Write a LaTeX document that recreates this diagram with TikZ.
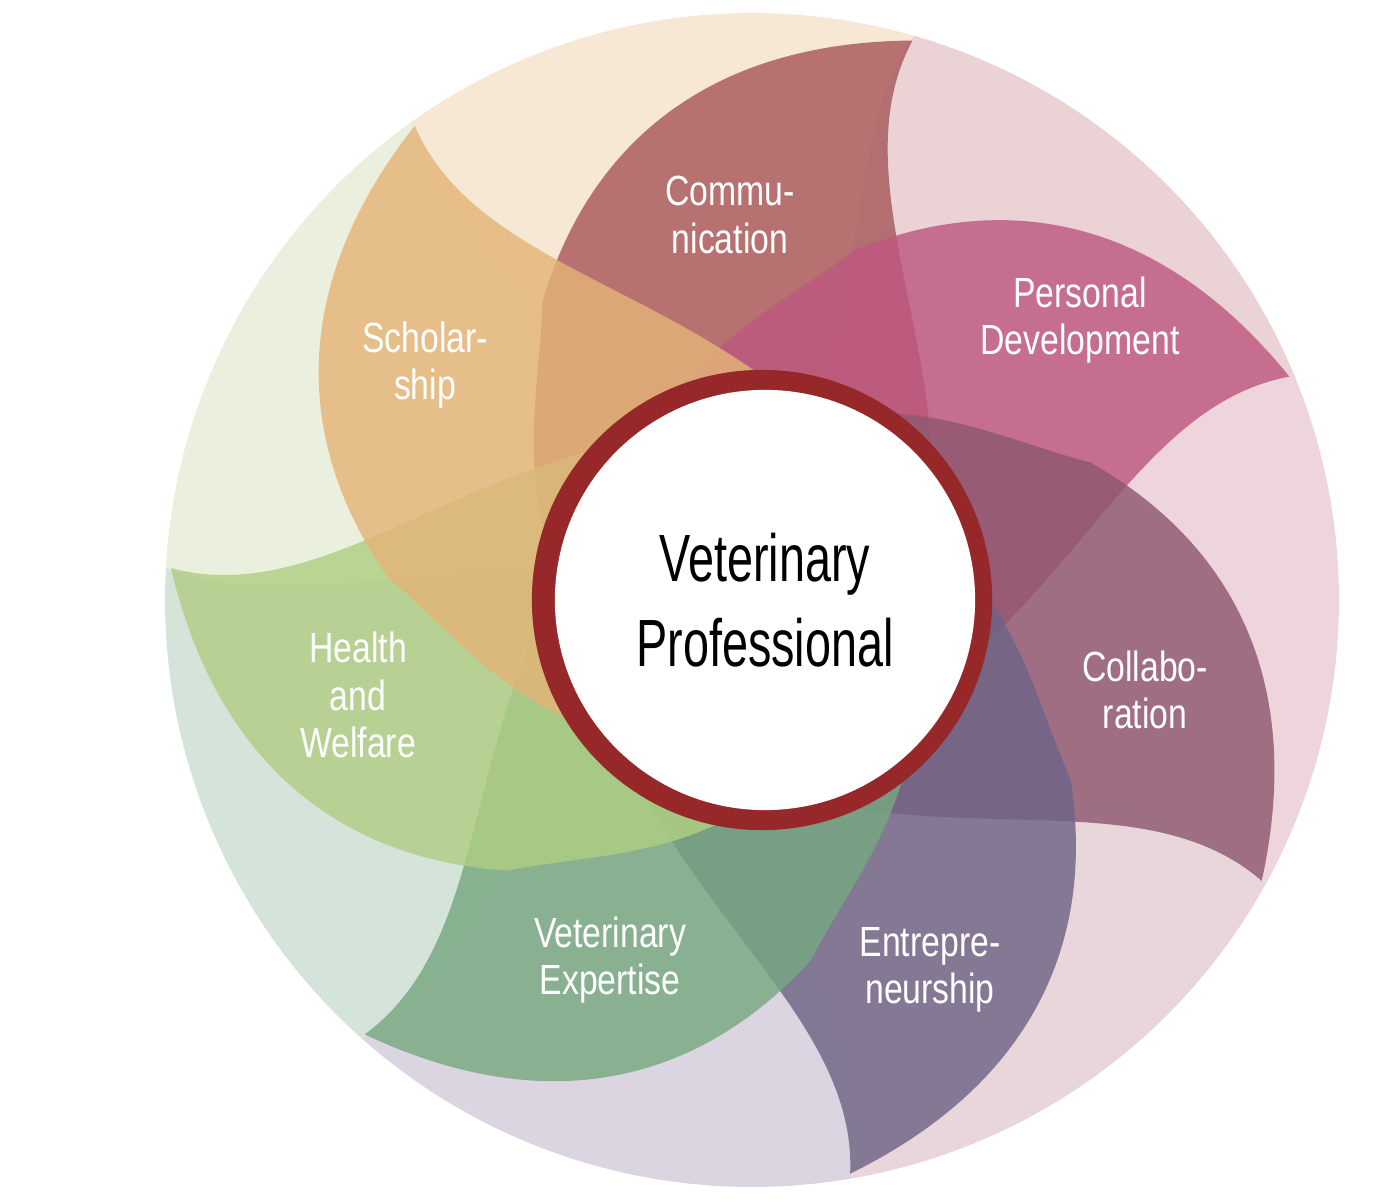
\documentclass[tikz,border=0pt]{standalone}
\usepackage{fontspec}
\setmainfont{Liberation Sans}
\usepackage{tikz}
\usetikzlibrary{positioning}
\definecolor{commP}{RGB}{168,88,90}
\definecolor{persP}{RGB}{190,88,128}
\definecolor{collP}{RGB}{142,88,112}
\definecolor{entrP}{RGB}{110,100,133}
\definecolor{expeP}{RGB}{118,168,128}
\definecolor{healP}{RGB}{176,206,132}
\definecolor{scholP}{RGB}{228,180,120}
\definecolor{commL}{RGB}{234,210,213}
\definecolor{persL}{RGB}{238,213,220}
\definecolor{collL}{RGB}{232,214,218}
\definecolor{entrL}{RGB}{218,213,224}
\definecolor{expeL}{RGB}{213,228,218}
\definecolor{healL}{RGB}{234,240,221}
\definecolor{scholL}{RGB}{247,232,213}
\definecolor{ringred}{RGB}{150,40,42}

\begin{document}
\begin{tikzpicture}[x=0.01cm,y=0.01cm,% pixel grid, y up
					every node/.style={align=center},
					label/.style={text=white,font=\fontsize{12}{13.5}\selectfont,xscale=0.8},
					centre/.style={text=black,font=\fontsize{19}{24}\selectfont,xscale=0.7}
					]
\useasboundingbox (0,0) rectangle (1376,1200);
% pale swirl segments
\foreach \i/\lc in {0/commL,1/persL,2/collL,3/entrL,4/expeL,5/healL,6/scholL}{
\begin{scope}[shift={(752,600)},rotate=-51.43*\i]
\fill[\lc] (0,0) .. controls (60:250) and (80:450) .. (74:587) arc[start angle=74,end angle=22.57,radius=587] .. controls (28.57:450) and (8.57:250) .. (0,0);
\end{scope}
}
% petals
\foreach \i/\pc in {0/commP,1/persP,2/collP,3/entrP,4/expeP,5/healP,6/scholP}{
\begin{scope}[shift={(752,600)},rotate=-51.43*\i]
\fill[\pc,opacity=0.82] (74:582) .. controls (78:440) and (55:330) .. (25:200) arc[start angle=25,end angle=170,radius=200] .. controls (150:270) and (135:300) .. (125:365) .. controls (110:480) and (95:560) .. (74:582);
\end{scope}
}
% centre ring
\node[circle,fill=ringred,minimum size=4.6cm](ring) at (762,600){};
\node[circle,fill=white,minimum size=4.2cm](core) at (765,600){};
\node[centre](vet) at (765,600){Veterinary\\Professional};
\node[label](comm) at (730,985){Commu-\\nication};
\node[label](pers) at (1080,880){Personal\\Development};
\node[label](coll) at (1145,510){Collabo-\\ration};
\node[label](entr) at (930,230){Entrepre-\\neurship};
\node[label](expe) at (610,240){Veterinary\\Expertise};
\node[label](heal) at (358,505){Health\\and\\Welfare};
\node[label](schol) at (425,835){Scholar-\\ship};
\end{tikzpicture}
\end{document}
